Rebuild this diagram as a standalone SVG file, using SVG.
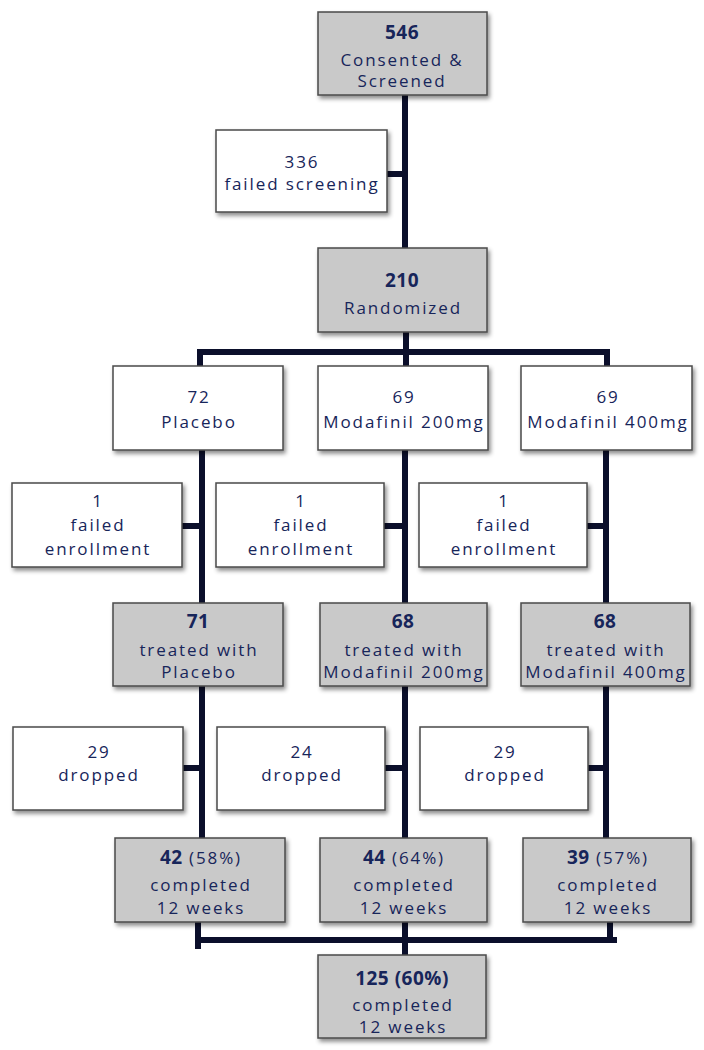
<svg xmlns="http://www.w3.org/2000/svg" width="704" height="1050" viewBox="0 0 704 1050">
<defs>
<filter id="sh" x="-10%" y="-10%" width="130%" height="140%">
<feDropShadow dx="2" dy="3" stdDeviation="2" flood-color="#000" flood-opacity="0.45"/>
</filter>
<style>
.g{fill:#c9c9c9;stroke:#4a4a4a;stroke-width:1.5;filter:url(#sh)}
.w{fill:#ffffff;stroke:#4a4a4a;stroke-width:1.5;filter:url(#sh)}
text{font-family:"Open Sans","Liberation Sans",sans-serif;fill:#17255a;text-anchor:middle;font-size:17px;letter-spacing:1.9px}
.b{font-weight:bold;font-size:19px;letter-spacing:0.5px}
.c{stroke:#0b0f2b;stroke-width:6;fill:none;stroke-linejoin:miter}
</style>
</defs>
<rect width="704" height="1050" fill="#fff"/>
<g id="connectors">
<path class="c" d="M405,95 V248 M387,174 H405"/>
<path class="c" d="M406,332 V366 M200,366 V352 H607 V366"/>
<path class="c" d="M202,450 V603 M182,526 H202"/>
<path class="c" d="M405,450 V603 M384,526 H405"/>
<path class="c" d="M606,450 V603 M587,526 H606"/>
<path class="c" d="M202,686 V838 M183,768 H202"/>
<path class="c" d="M405,686 V838 M385,768 H405"/>
<path class="c" d="M606,686 V838 M588,768 H606"/>
<path class="c" d="M198,922 V949 M197,940 H617 M405,922 V955 M610,922 V940"/>
</g>
<g id="n546"><rect class="g" x="318" y="12" width="169" height="83"/>
<text class="b" x="402" y="39">546</text><text x="402" y="66">Consented &amp;</text><text x="402" y="87">Screened</text></g>
<g id="n336"><rect class="w" x="216" y="130" width="171" height="82"/>
<text x="302" y="168">336</text><text x="302" y="190">failed screening</text></g>
<g id="n210"><rect class="g" x="318" y="248" width="169" height="84"/>
<text class="b" x="402" y="287">210</text><text x="403" y="314">Randomized</text></g>
<g id="p72"><rect class="w" x="113" y="366" width="170" height="84"/>
<text x="199" y="403">72</text><text x="199" y="428">Placebo</text></g>
<g id="m200"><rect class="w" x="318" y="366" width="170" height="84"/>
<text x="404" y="403">69</text><text x="404" y="428">Modafinil 200mg</text></g>
<g id="m400"><rect class="w" x="521" y="366" width="171" height="84"/>
<text x="608" y="403">69</text><text x="608" y="428">Modafinil 400mg</text></g>
<g id="fe1"><rect class="w" x="12" y="483" width="170" height="84"/>
<text x="98" y="507">1</text><text x="98" y="531">failed</text><text x="98" y="555">enrollment</text></g>
<g id="fe2"><rect class="w" x="216" y="483" width="168" height="84"/>
<text x="301" y="507">1</text><text x="301" y="531">failed</text><text x="301" y="555">enrollment</text></g>
<g id="fe3"><rect class="w" x="419" y="483" width="168" height="84"/>
<text x="504" y="507">1</text><text x="504" y="531">failed</text><text x="504" y="555">enrollment</text></g>
<g id="t71"><rect class="g" x="113" y="603" width="170" height="83"/>
<text class="b" x="198" y="628">71</text><text x="199" y="656">treated with</text><text x="199" y="678">Placebo</text></g>
<g id="t68a"><rect class="g" x="320" y="603" width="167" height="83"/>
<text class="b" x="403" y="628">68</text><text x="404" y="656">treated with</text><text x="404" y="678">Modafinil 200mg</text></g>
<g id="t68b"><rect class="g" x="521" y="603" width="169" height="83"/>
<text class="b" x="605" y="628">68</text><text x="606" y="656">treated with</text><text x="606" y="678">Modafinil 400mg</text></g>
<g id="d29a"><rect class="w" x="13" y="727" width="170" height="83"/>
<text x="99" y="758">29</text><text x="99" y="781">dropped</text></g>
<g id="d24"><rect class="w" x="217" y="727" width="168" height="83"/>
<text x="302" y="758">24</text><text x="302" y="781">dropped</text></g>
<g id="d29b"><rect class="w" x="420" y="727" width="168" height="83"/>
<text x="505" y="758">29</text><text x="505" y="781">dropped</text></g>
<g id="c42"><rect class="g" x="115" y="838" width="170" height="84"/>
<text x="201" y="864"><tspan class="b">42</tspan> (58%)</text><text x="201" y="891">completed</text><text x="201" y="914">12 weeks</text></g>
<g id="c44"><rect class="g" x="320" y="838" width="167" height="84"/>
<text x="404" y="864"><tspan class="b">44</tspan> (64%)</text><text x="404" y="891">completed</text><text x="404" y="914">12 weeks</text></g>
<g id="c39"><rect class="g" x="523" y="838" width="168" height="84"/>
<text x="608" y="864"><tspan class="b">39</tspan> (57%)</text><text x="608" y="891">completed</text><text x="608" y="914">12 weeks</text></g>
<g id="f125"><rect class="g" x="318" y="955" width="168" height="83"/>
<text class="b" x="402" y="985">125 (60%)</text><text x="403" y="1011">completed</text><text x="403" y="1033">12 weeks</text></g>
</svg>
